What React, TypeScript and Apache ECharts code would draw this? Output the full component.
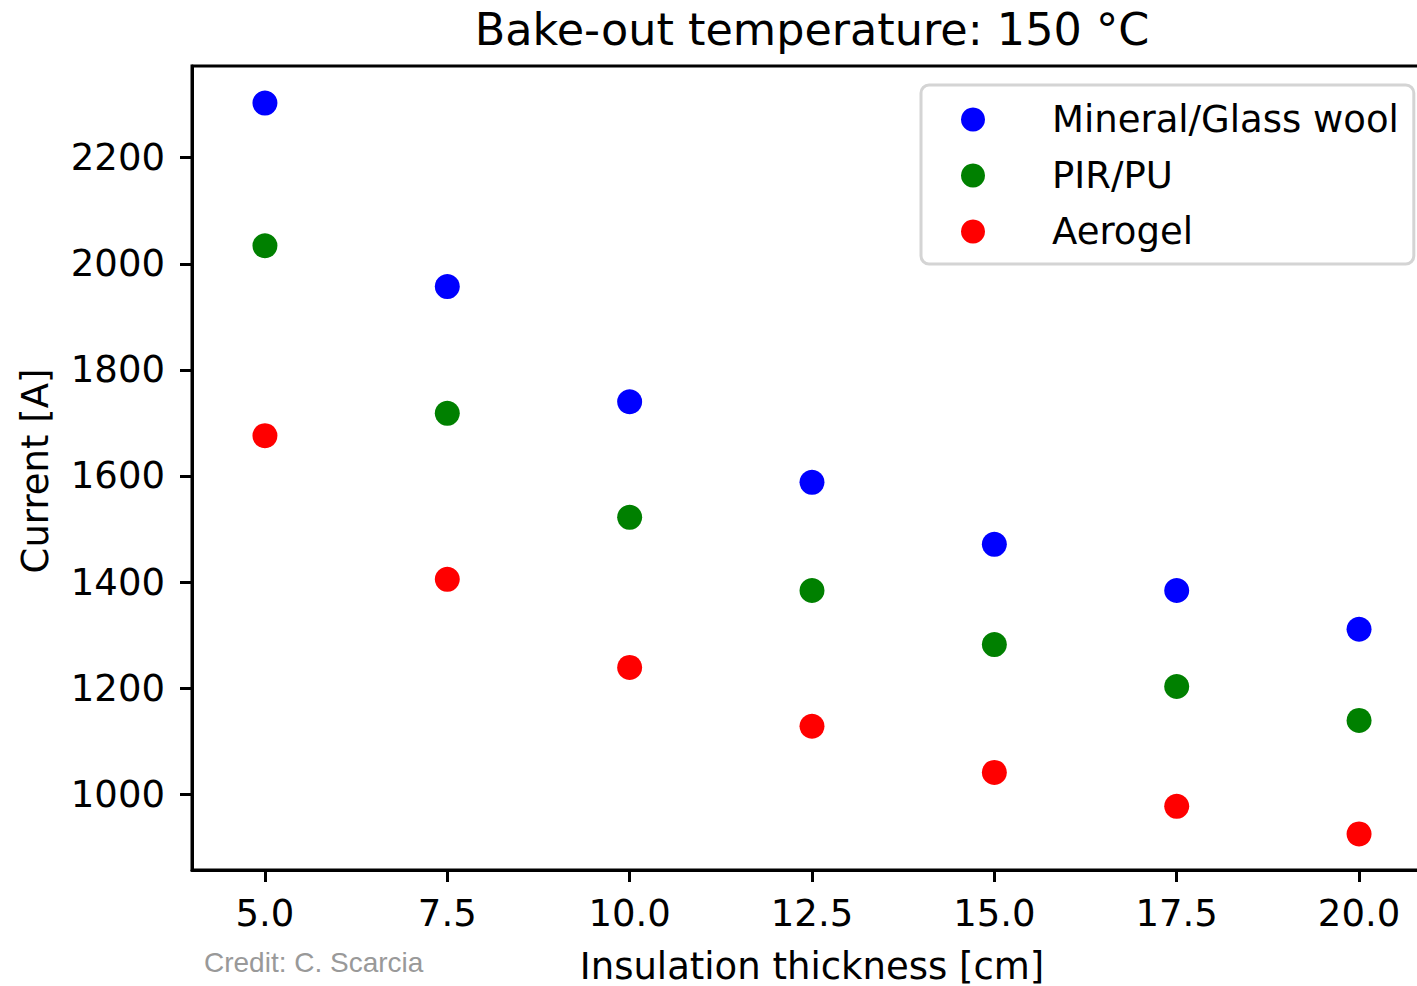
import React, { useEffect, useRef } from "react";
import * as echarts from "echarts";

const thickness = [5, 7.5, 10, 12.5, 15, 17.5, 20];
const mineralWool = [2303, 1957, 1740, 1588, 1471, 1384, 1311];
const pirPu = [2034, 1718, 1522, 1384, 1282, 1203, 1139];
const aerogel = [1676, 1405, 1239, 1128, 1041, 977, 925];
const xTicks = [5, 7.5, 10, 12.5, 15, 17.5, 20];
const yTicks = [1000, 1200, 1400, 1600, 1800, 2000, 2200];
const seriesNames = ["Mineral/Glass wool", "PIR/PU", "Aerogel"];
const seriesColors = ["#0000ff", "#008000", "#ff0000"];

const FONT = "DejaVu Sans";
const CHART_W = 1450;

export default function App() {
  const ref = useRef<HTMLDivElement>(null);
  useEffect(() => {
    if (!ref.current) return;
    const chart = echarts.init(ref.current, null, { renderer: "svg" });
    const values = [mineralWool, pirPu, aerogel];
    chart.setOption({
      animation: false,
      backgroundColor: "#fff",
      grid: {
        left: 192,
        right: CHART_W - 1432,
        top: 66,
        bottom: 116,
        show: true,
        borderColor: "#000",
        borderWidth: 3,
        backgroundColor: "transparent",
      },
      xAxis: {
        type: "value",
        min: 4,
        max: 21,
        axisLine: { show: true, onZero: false, lineStyle: { color: "#000", width: 3 } },
        axisTick: { show: true, length: 12, lineStyle: { color: "#000", width: 3 }, customValues: xTicks },
        axisLabel: {
          customValues: xTicks,
          formatter: (v: number) => v.toFixed(1),
          fontSize: 37,
          fontFamily: FONT,
          color: "#000",
          margin: 25,
        },
        splitLine: { show: false },
      },
      yAxis: {
        type: "value",
        min: 857,
        max: 2373,
        axisLine: { show: true, onZero: false, lineStyle: { color: "#000", width: 3 } },
        axisTick: { show: true, length: 12, lineStyle: { color: "#000", width: 3 }, customValues: yTicks },
        axisLabel: {
          customValues: yTicks,
          formatter: (v: number) => String(Math.round(v)),
          fontSize: 37,
          fontFamily: FONT,
          color: "#000",
          margin: 27,
        },
        splitLine: { show: false },
      },
      legend: {
        orient: "vertical",
        left: 921,
        top: 85,
        padding: [16, 15, 14, 40],
        itemWidth: 24,
        itemHeight: 24,
        itemGap: 19,
        icon: "circle",
        data: seriesNames,
        itemStyle: { opacity: 1 },
        textStyle: {
          fontSize: 37,
          fontFamily: FONT,
          color: "#000",
          lineHeight: 36,
          padding: [0, 0, 0, 62],
        },
        backgroundColor: "#fff",
        borderColor: "#d4d4d4",
        borderWidth: 3,
        borderRadius: 8,
      },
      graphic: [
        {
          type: "text",
          x: 812,
          y: 29,
          style: {
            text: "Bake-out temperature: 150 °C",
            fontSize: 44.5,
            fontFamily: FONT,
            fill: "#000",
            align: "center",
            verticalAlign: "middle",
          },
        },
        {
          type: "text",
          x: 812,
          y: 966,
          style: {
            text: "Insulation thickness [cm]",
            fontSize: 37,
            fontFamily: FONT,
            fill: "#000",
            align: "center",
            verticalAlign: "middle",
          },
        },
        {
          type: "text",
          x: 35,
          y: 471,
          rotation: Math.PI / 2,
          style: {
            text: "Current [A]",
            fontSize: 37,
            fontFamily: FONT,
            fill: "#000",
            align: "center",
            verticalAlign: "middle",
          },
        },
        {
          type: "text",
          x: 204,
          y: 962,
          style: {
            text: "Credit: C. Scarcia",
            fontSize: 28,
            fontFamily: "Liberation Sans",
            fill: "#999999",
            align: "left",
            verticalAlign: "middle",
          },
        },
      ],
      series: seriesNames.map((name, s) => ({
        name,
        type: "scatter",
        symbol: "circle",
        symbolSize: 25,
        itemStyle: { color: seriesColors[s], opacity: 1 },
        data: thickness.map((x, i) => [x, values[s][i]]),
      })),
    });
    return () => chart.dispose();
  }, []);
  return (
    <div
      style={{ position: "fixed", left: 0, top: 0, width: 1417, height: 986, overflow: "hidden", background: "#fff" }}
    >
      <div ref={ref} style={{ width: CHART_W, height: 986 }} />
    </div>
  );
}
